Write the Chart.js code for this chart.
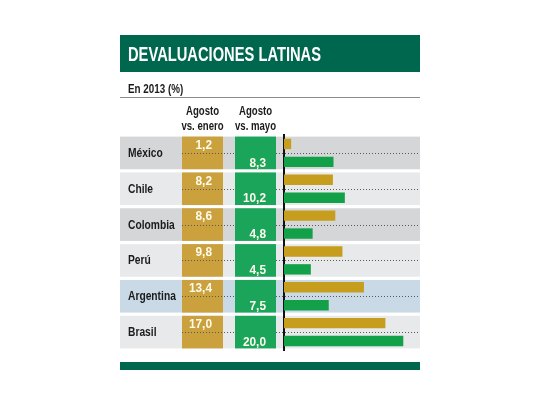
<!DOCTYPE html>
<html>

<head>
    <meta charset="utf-8">
    <title>Devaluaciones latinas</title>
    <script src="https://cdn.jsdelivr.net/npm/chart.js"></script>
    <style>
        body {
            margin: 0;
            background-color: #fff;
        }

        #chart {
            display: block;
        }
    </style>
</head>

<body>
    <canvas id="chart" width="540" height="405"></canvas>
    <script>
        // data
        const countries = ['México', 'Chile', 'Colombia', 'Perú', 'Argentina', 'Brasil'];
        const vsEnero = [1.2, 8.2, 8.6, 9.8, 13.4, 17.0];
        const vsMayo = [8.3, 10.2, 4.8, 4.5, 7.5, 20.0];
        const headerEnero = ['Agosto', 'vs. enero'];
        const headerMayo = ['Agosto', 'vs. mayo'];
        const titleText = 'DEVALUACIONES LATINAS';
        const subtitleText = 'En 2013 (%)';

        const FONT = "'Liberation Sans', Arial, sans-serif";
        const darkGreen = '#00674f';
        const goldBar = '#c79d1e';
        const greenBar = '#12a048';
        const goldCol = '#caa13c';
        const greenCol = '#1ba55a';
        const rowColors = ['#d4d6d8', '#e8e9eb', '#d4d6d8', '#e8e9eb', '#c9dae6', '#e8e9eb'];

        function fmt(v) {
            return v.toFixed(1).replace('.', ',');
        }

        // condensed text: squeeze the glyphs horizontally like the print font
        function narrowText(ctx, text, x, y, align, sx) {
            ctx.save();
            ctx.translate(x, y);
            ctx.scale(sx, 1);
            ctx.textAlign = align;
            ctx.fillText(text, 0, 0);
            ctx.restore();
        }

        // background panel: title, headers, row bands, value columns
        const panel = {
            id: 'panel',
            beforeDraw(chart) {
                const ctx = chart.ctx;
                const y = chart.scales.y;
                const left = 120, right = chart.chartArea.right;
                const step = y.height / countries.length;
                ctx.save();
                ctx.textBaseline = 'middle';

                // title band
                ctx.fillStyle = darkGreen;
                ctx.fillRect(left, 35, right - left, 37);
                ctx.fillStyle = '#fff';
                ctx.font = 'bold 20px ' + FONT;
                ctx.textAlign = 'left';
                ctx.fillText(titleText, 128, 55, 193);

                // subtitle + rule
                ctx.fillStyle = '#1b1b1b';
                ctx.font = 'bold 12px ' + FONT;
                narrowText(ctx, subtitleText, 128, 90, 'left', 0.82);
                ctx.strokeStyle = '#8a8a8a';
                ctx.lineWidth = 1;
                ctx.beginPath();
                ctx.moveTo(left, 97.5);
                ctx.lineTo(right, 97.5);
                ctx.stroke();

                // column headers
                ctx.font = 'bold 12px ' + FONT;
                headerEnero.forEach((t, i) => narrowText(ctx, t, 202.5, 112 + i * 15, 'center', 0.8));
                headerMayo.forEach((t, i) => narrowText(ctx, t, 255.5, 112 + i * 15, 'center', 0.8));

                // rows
                countries.forEach((c, i) => {
                    const cy = y.getPixelForValue(i);
                    const top = cy - step / 2 + 1.6;
                    const h = step - 3.2;
                    ctx.fillStyle = rowColors[i];
                    ctx.fillRect(left, top, right - left, h);
                    ctx.fillStyle = goldCol;
                    ctx.fillRect(182, top, 41, h);
                    ctx.fillStyle = greenCol;
                    ctx.fillRect(235, top, 41, h);

                    ctx.strokeStyle = '#5a5a5a';
                    ctx.setLineDash([1, 2]);
                    ctx.beginPath();
                    ctx.moveTo(182, Math.round(cy) + 0.5);
                    ctx.lineTo(235, Math.round(cy) + 0.5);
                    ctx.moveTo(276, Math.round(cy) + 0.5);
                    ctx.lineTo(right, Math.round(cy) + 0.5);
                    ctx.stroke();
                    ctx.setLineDash([]);

                    // country name on the category position
                    ctx.fillStyle = '#1b1b1b';
                    ctx.font = 'bold 12.5px ' + FONT;
                    narrowText(ctx, y.getLabelForValue(i), 128, cy + 0.5, 'left', 0.82);
                });

                // bottom band
                ctx.fillStyle = darkGreen;
                ctx.fillRect(left, 362, right - left, 8);
                ctx.restore();
            },
            afterDatasetsDraw(chart) {
                const ctx = chart.ctx;
                ctx.save();
                ctx.fillStyle = '#fffbee';
                ctx.font = 'bold 13.5px ' + FONT;
                ctx.textBaseline = 'middle';
                const xs = [212, 266];
                chart.data.datasets.forEach((ds, d) => {
                    chart.getDatasetMeta(d).data.forEach((bar, i) => {
                        narrowText(ctx, fmt(ds.data[i]), xs[d], bar.y + 1, 'right', 0.88);
                    });
                });
                ctx.restore();
            }
        };

        new Chart(document.getElementById('chart'), {
            type: 'bar',
            data: {
                labels: countries,
                datasets: [{
                    label: 'Agosto vs. enero',
                    data: vsEnero,
                    backgroundColor: goldBar,
                    categoryPercentage: 1,
                    barPercentage: 0.58
                }, {
                    label: 'Agosto vs. mayo',
                    data: vsMayo,
                    backgroundColor: greenBar,
                    categoryPercentage: 1,
                    barPercentage: 0.58
                }]
            },
            options: {
                indexAxis: 'y',
                responsive: false,
                animation: false,
                layout: {
                    padding: { left: 128, right: 120, top: 135, bottom: 55 }
                },
                scales: {
                    x: {
                        display: false,
                        min: 0,
                        max: 22.8
                    },
                    y: {
                        position: 'left',
                        grid: { display: false },
                        border: { display: true, color: '#111', width: 2 },
                        ticks: { display: false },
                        afterFit(scale) {
                            scale.width = 156;
                        }
                    }
                },
                plugins: {
                    legend: { display: false },
                    tooltip: { enabled: false }
                }
            },
            plugins: [panel]
        });
    </script>
</body>

</html>
